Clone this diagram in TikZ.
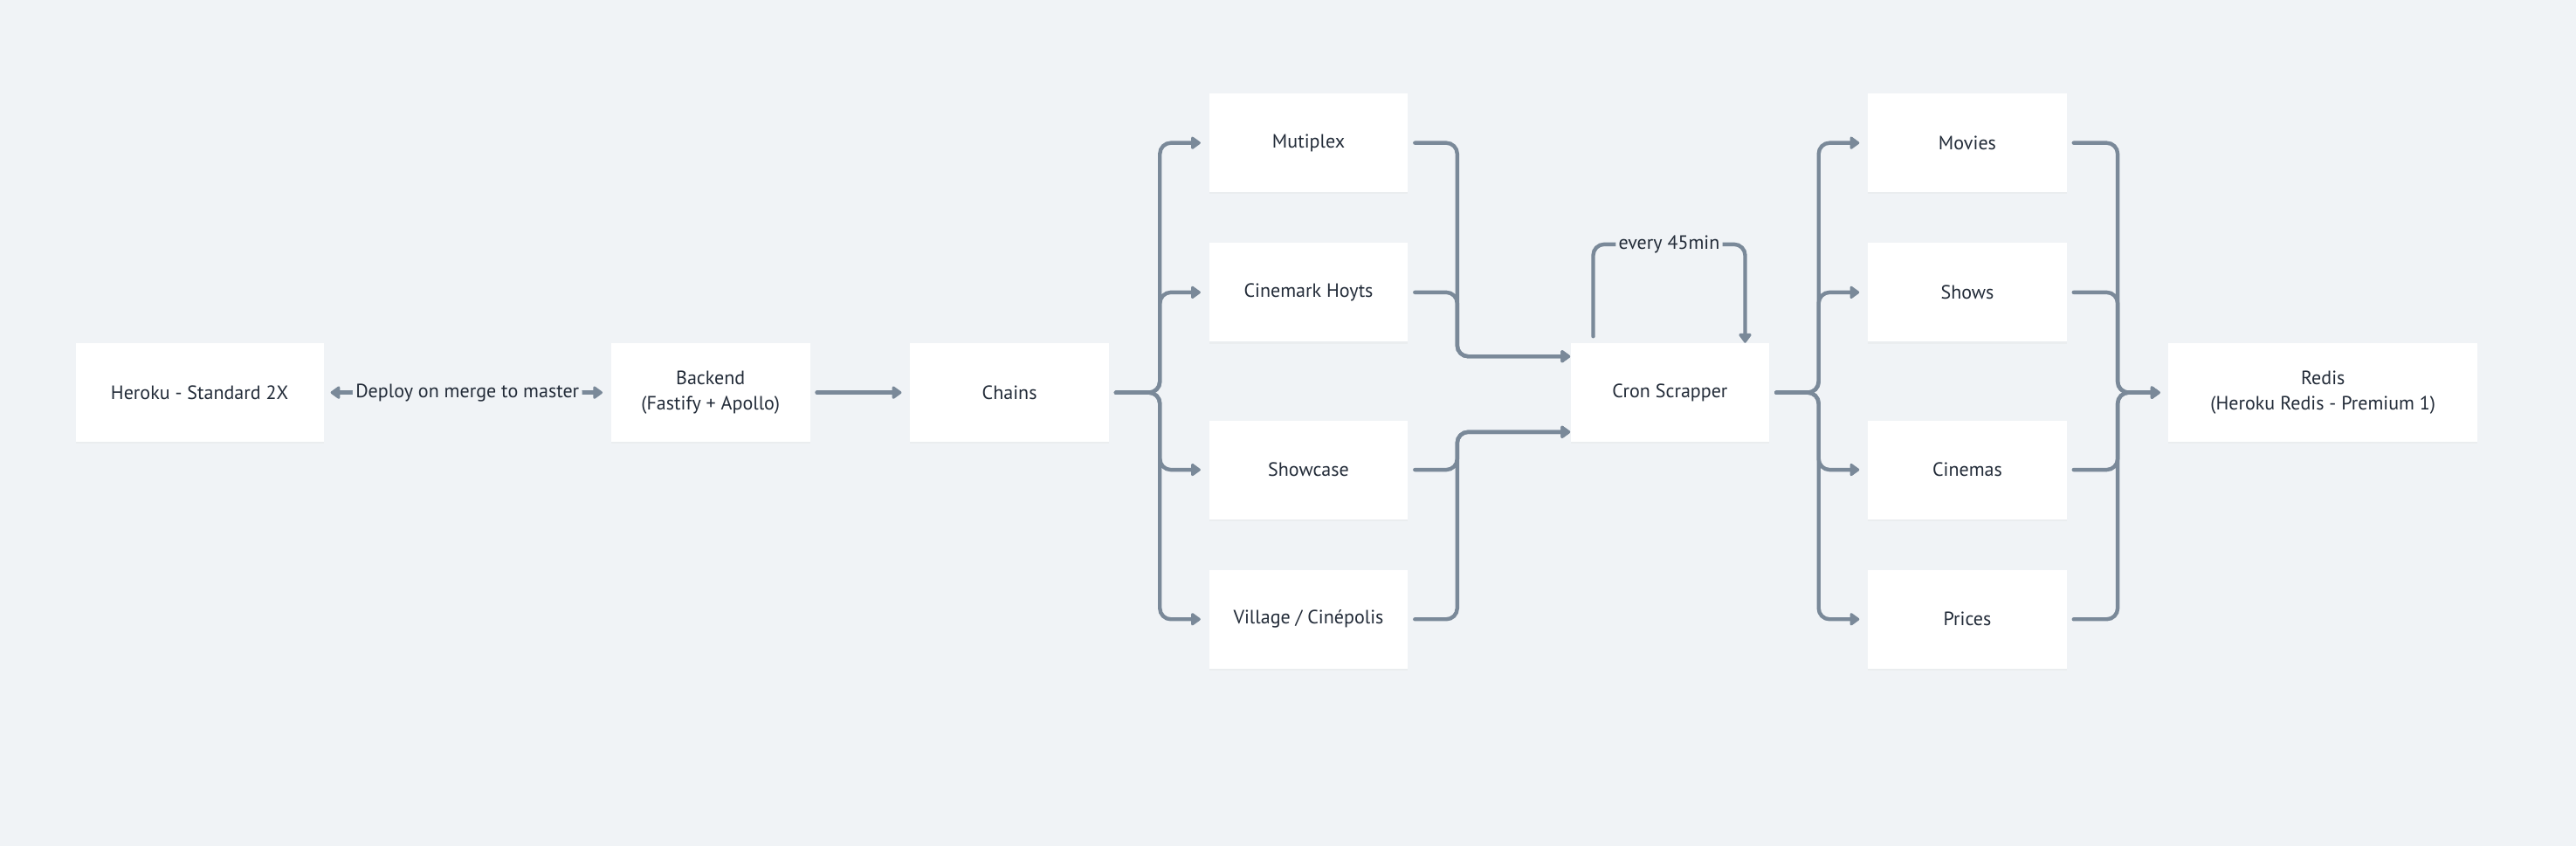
\documentclass[tikz,border=0pt]{standalone}
\usepackage{fontspec}
\setmainfont{PT Sans}
\usetikzlibrary{arrows.meta,calc,positioning,shadows}
\definecolor{bgcol}{HTML}{F0F3F6}
\definecolor{linecol}{HTML}{7A8999}
\definecolor{textcol}{HTML}{222B38}
\tikzset{
  box/.style={fill=white, text=textcol, minimum width=3.63cm, minimum height=1.8cm,
    align=center, font=\fontsize{10}{13}\selectfont,
    drop shadow={opacity=0.05, shadow xshift=0pt, shadow yshift=-1pt}},
  tip/.style={-{Triangle[length=0.19cm,width=0.26cm,round]}},
  link/.style={draw=linecol, line width=2pt, rounded corners=0.2cm, line cap=round, tip},
  gap/.style={shorten <=0.12cm, shorten >=0.15cm},
  startgap/.style={shorten <=0.12cm},
  lbl/.style={fill=bgcol, text=textcol, inner xsep=1.5pt, inner ysep=2pt,
    font=\fontsize{10}{13}\selectfont}
}
\begin{document}
\begin{tikzpicture}[x=0.03cm, y=-0.03cm]
\fill[bgcol] (0,0) rectangle (1568,515);
\useasboundingbox (0,0) rectangle (1568,515);

\node[box, minimum width=4.53cm] (heroku) at (121.5,239) {Heroku - Standard 2X};
\node[box] (backend) at (432.5,239) {Backend\\(Fastify + Apollo)};
\node[box] (chains) at (614.5,239) {Chains};

\node[box] (mutiplex) at (796.5,87) {Mutiplex};
\node[box] (cinemark) at (796.5,178) {Cinemark Hoyts};
\node[box] (showcase) at (796.5,286) {Showcase};
\node[box] (village) at (796.5,377) {Village / Cinépolis};

\node[box] (cron) at (1016.5,239) {Cron Scrapper};

\node[box] (movies) at (1197.5,87) {Movies};
\node[box] (shows) at (1197.5,178) {Shows};
\node[box] (cinemas) at (1197.5,286) {Cinemas};
\node[box] (prices) at (1197.5,377) {Prices};

\node[box, minimum width=5.64cm] (redis) at (1414,239) {Redis\\(Heroku Redis - Premium 1)};

\coordinate (split1) at (706,239);
\coordinate (join1) at (887,217);
\coordinate (join2) at (887,263);
\coordinate (split2) at (1107,239);
\coordinate (join3) at (1289,239);

\draw[link, gap, {Triangle[length=0.19cm,width=0.26cm,round]}-{Triangle[length=0.19cm,width=0.26cm,round]}]
  (heroku.east) -- node[lbl] (deploy) {Deploy on merge to master} (backend.west);
\draw[link, gap] (backend.east) -- (chains.west);

\foreach \n in {mutiplex,cinemark,showcase,village}
  \draw[link, gap] (chains.east) -- (split1) |- (\n.west);

\foreach \n in {mutiplex,cinemark}
  \draw[link, startgap] (\n.east) -| (join1) -- (cron.west |- join1);
\foreach \n in {showcase,village}
  \draw[link, startgap] (\n.east) -| (join2) -- (cron.west |- join2);

\draw[link] ($(cron.north west)+(14,-4)$) -- ++(0,-56)
  -| node[lbl, pos=0.25] (every) {every 45min} ($(cron.north east)+(-15,0)$);

\foreach \n in {movies,shows,cinemas,prices}
  {
    \draw[link, gap] (cron.east) -- (split2) |- (\n.west);
    \draw[link, gap] (\n.east) -| (join3) -- (redis.west);
  }

\end{tikzpicture}
\end{document}
